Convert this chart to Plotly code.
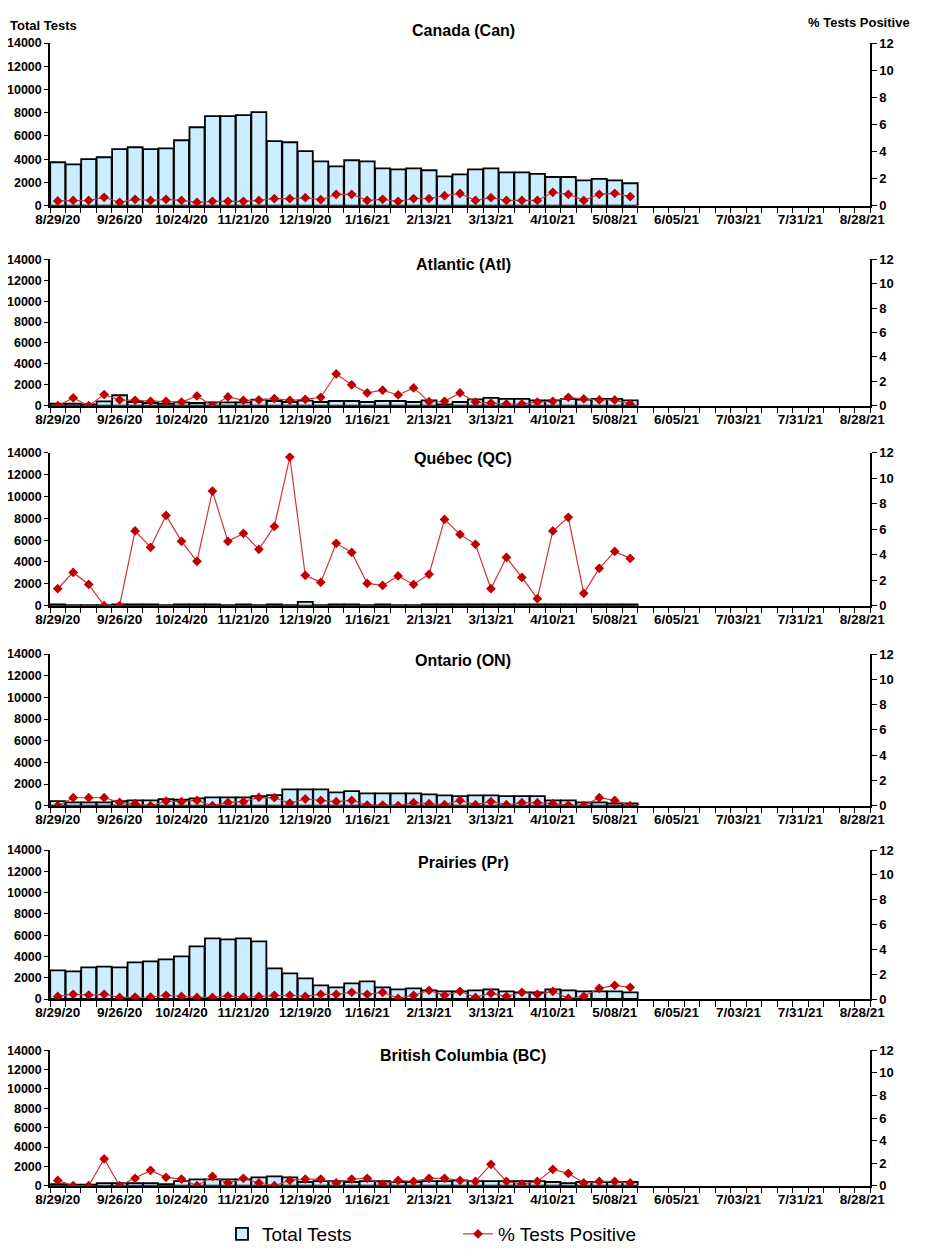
import plotly.graph_objects as go
from plotly.subplots import make_subplots

# ---------------- data ----------------
tick_labels = ["8/29/20", "9/26/20", "10/24/20", "11/21/20", "12/19/20", "1/16/21", "2/13/21",
               "3/13/21", "4/10/21", "5/08/21", "6/05/21", "7/03/21", "7/31/21", "8/28/21"]
n_weeks = 53  # weekly categories 8/29/20 .. 8/28/21

regions = ["Canada (Can)", "Atlantic (Atl)", "Québec (QC)", "Ontario (ON)", "Prairies (Pr)", "British Columbia (BC)"]

can_tests = [3740, 3560, 4000, 4170, 4860, 5030, 4860, 4940, 5630, 6750, 7700, 7700, 7790, 8050, 5550, 5460,
             4690, 3820, 3390, 3910, 3820, 3220, 3130, 3220, 3050, 2530, 2700, 3130, 3220, 2870, 2870, 2730,
             2470, 2470, 2180, 2300, 2180, 1930]
can_pos = [0.35, 0.39, 0.39, 0.62, 0.25, 0.47, 0.39, 0.47, 0.39, 0.25, 0.32, 0.32, 0.32, 0.39, 0.52, 0.52,
           0.59, 0.44, 0.84, 0.84, 0.39, 0.47, 0.32, 0.53, 0.53, 0.74, 0.90, 0.39, 0.59, 0.39, 0.39, 0.39,
           0.99, 0.84, 0.39, 0.84, 0.91, 0.67]

atl_tests = [190, 190, 130, 420, 1000, 355, 260, 190, 320, 260, 320, 320, 320, 580, 450, 355, 480, 355,
             450, 450, 355, 450, 450, 355, 515, 130, 355, 610, 740, 645, 645, 515, 515, 645, 580, 645, 645, 515]
atl_pos = [0, 0.64, 0, 0.91, 0.47, 0.44, 0.36, 0.36, 0.30, 0.80, 0, 0.72, 0.44, 0.47, 0.58, 0.44, 0.52,
           0.69, 2.60, 1.71, 1.05, 1.27, 0.88, 1.46, 0.33, 0.36, 1.05, 0.30, 0.22, 0.14, 0.14, 0.30, 0.36,
           0.69, 0.55, 0.47, 0.47, 0.14]

qc_tests = [110, 50, 50, 50, 110, 110, 110, 50, 110, 110, 110, 50, 110, 50, 110, 50, 350, 50, 110, 110,
            50, 110, 50, 50, 110, 110, 110, 110, 110, 110, 110, 110, 110, 110, 110, 110, 110, 110]
qc_pos = [1.33, 2.61, 1.67, 0, 0, 5.86, 4.58, 7.08, 5.05, 3.48, 8.99, 5.05, 5.67, 4.42, 6.22, 11.66,
          2.38, 1.83, 4.89, 4.18, 1.75, 1.59, 2.33, 1.67, 2.46, 6.77, 5.59, 4.81, 1.33, 3.79, 2.22, 0.55,
          5.86, 6.93, 0.97, 2.93, 4.26, 3.71]

on_tests = [430, 310, 310, 310, 430, 490, 490, 615, 550, 680, 770, 770, 770, 890, 985, 1510, 1510, 1510,
            1230, 1350, 1140, 1140, 1140, 1140, 1045, 955, 890, 955, 955, 890, 890, 890, 490, 490, 310, 310,
            215, 215]
on_pos = [0, 0.63, 0.63, 0.63, 0.26, 0.16, 0, 0.37, 0.32, 0.42, 0, 0.26, 0.32, 0.66, 0.63, 0.21, 0.53,
          0.42, 0.32, 0.42, 0.05, 0.05, 0, 0.24, 0.16, 0.08, 0.42, 0.08, 0.32, 0.08, 0.24, 0.24, 0.16, 0.05,
          0, 0.63, 0.42, 0]

pr_tests = [2690, 2600, 2970, 3040, 2970, 3440, 3540, 3720, 4010, 4950, 5700, 5600, 5700, 5410, 2880, 2410,
            1940, 1280, 1100, 1470, 1660, 1100, 910, 1000, 810, 720, 720, 810, 910, 720, 630, 630, 910, 810,
            720, 720, 720, 630]
pr_pos = [0.21, 0.38, 0.32, 0.38, 0.13, 0.16, 0.16, 0.30, 0.21, 0.13, 0.13, 0.24, 0.16, 0.21, 0.30, 0.30,
          0.21, 0.38, 0.38, 0.54, 0.38, 0.54, 0.05, 0.30, 0.70, 0.30, 0.62, 0.13, 0.46, 0.21, 0.54, 0.38,
          0.62, 0.05, 0.21, 0.86, 1.10, 0.94]

bc_tests = [170, 100, 100, 275, 275, 275, 275, 170, 480, 655, 655, 655, 655, 860, 965, 860, 380, 480, 480,
            380, 480, 480, 380, 380, 480, 480, 550, 480, 480, 480, 480, 480, 380, 275, 380, 380, 380, 380]
bc_pos = [0.47, 0, 0, 2.37, 0, 0.65, 1.36, 0.74, 0.59, 0, 0.83, 0.24, 0.65, 0.24, 0, 0.47, 0.59, 0.59,
          0.24, 0.59, 0.65, 0.15, 0.47, 0.38, 0.65, 0.65, 0.47, 0.38, 1.89, 0.38, 0.15, 0.38, 1.45, 1.09,
          0.24, 0.38, 0.38, 0.24]

tests_list = [can_tests, atl_tests, qc_tests, on_tests, pr_tests, bc_tests]
pos_list = [can_pos, atl_pos, qc_pos, on_pos, pr_pos, bc_pos]

# ---------------- layout geometry (page pixels; the page body has an 8px margin) ----------------
OFF = 8
W, H = 926 - 2 * OFF, 1257 - 2 * OFF
panel_px = [(43, 205.7), (259.3, 405.7), (452.7, 605.7), (654, 805.7), (850, 999), (1050.3, 1185.7)]
title_px = [31, 265, 458, 660, 862, 1055]


def px_x(x):
    return (x - OFF) / W


def px_y(y):
    return 1 - (y - OFF) / H


x_dom = [px_x(50), px_x(870)]

FONT = "Liberation Sans, Arial, sans-serif"
BAR_FILL = "#CCECFF"
RED = "#C00000"

fig = make_subplots(rows=6, cols=1, specs=[[{"secondary_y": True}]] * 6)

for i in range(6):
    r = i + 1
    t = tests_list[i]
    p = pos_list[i]
    fig.add_trace(go.Bar(x=list(range(len(t))), y=t, name="Total Tests",
                         marker=dict(color=BAR_FILL, line=dict(color="black", width=1.8)),
                         showlegend=(i == 0), legendrank=1),
                  row=r, col=1, secondary_y=False)
    fig.add_trace(go.Scatter(x=list(range(len(p))), y=p, name="% Tests Positive", mode="lines+markers",
                             line=dict(color="#D03535", width=1.2),
                             marker=dict(symbol="diamond", size=7.5, color=RED),
                             showlegend=(i == 0), legendrank=2),
                  row=r, col=1, secondary_y=True)

    top, bot = panel_px[i]
    ydom = [px_y(bot), px_y(top)]
    fig.update_xaxes(row=r, col=1, domain=x_dom, range=[-0.5, n_weeks - 0.5], automargin=False,
                     tickmode="array", tickvals=list(range(0, n_weeks, 4)), ticktext=tick_labels,
                     ticks="", showline=True, linecolor="black", linewidth=1.5, showgrid=False,
                     zeroline=False, tickfont=dict(family=FONT, size=13.5, color="black", weight="bold"),
                     minor=dict(tickmode="array", tickvals=[k - 0.5 for k in range(n_weeks + 1)],
                                ticks="outside", ticklen=6, tickwidth=1.2, tickcolor="black",
                                showgrid=False))
    fig.update_yaxes(row=r, col=1, secondary_y=False, domain=ydom, range=[0, 14000], dtick=2000,
                     tickformat="d", automargin=False,
                     ticks="outside", ticklen=4, tickwidth=1.2, tickcolor="black",
                     showline=True, linecolor="black", linewidth=1.5, showgrid=False, zeroline=False,
                     tickfont=dict(family=FONT, size=12.5, color="black", weight="bold"))
    fig.update_yaxes(row=r, col=1, secondary_y=True, domain=ydom, range=[0, 12], dtick=2,
                     automargin=False,
                     ticks="outside", ticklen=5, tickwidth=1.2, tickcolor="black",
                     showline=True, linecolor="black", linewidth=1.5, showgrid=False, zeroline=False,
                     tickfont=dict(family=FONT, size=13, color="black", weight="bold"))

    fig.add_annotation(text=regions[i], xref="paper", yref="paper", x=px_x(463), y=px_y(title_px[i]),
                       xanchor="center", yanchor="middle", showarrow=False,
                       font=dict(family=FONT, size=16, color="black", weight="bold"))

fig.add_annotation(text="Total Tests", xref="paper", yref="paper", x=px_x(8), y=px_y(25),
                   xanchor="left", yanchor="middle", showarrow=False,
                   font=dict(family=FONT, size=13, color="black", weight="bold"))
fig.add_annotation(text="% Tests Positive", xref="paper", yref="paper", x=px_x(912), y=px_y(22),
                   xanchor="right", yanchor="middle", showarrow=False,
                   font=dict(family=FONT, size=13, color="black", weight="bold"))

fig.update_layout(
    width=W, height=H,
    margin=dict(l=0, r=0, t=0, b=0, autoexpand=False),
    paper_bgcolor="white", plot_bgcolor="white",
    bargap=0.03,
    font=dict(family=FONT, color="black"),
    legend=dict(orientation="h", x=px_x(222), y=px_y(1234), xanchor="left", yanchor="middle",
                font=dict(family=FONT, size=19, color="black"),
                entrywidth=191, entrywidthmode="pixels", traceorder="normal",
                bgcolor="rgba(0,0,0,0)"),
)

fig.write_html("out.html", config={"displayModeBar": False})
